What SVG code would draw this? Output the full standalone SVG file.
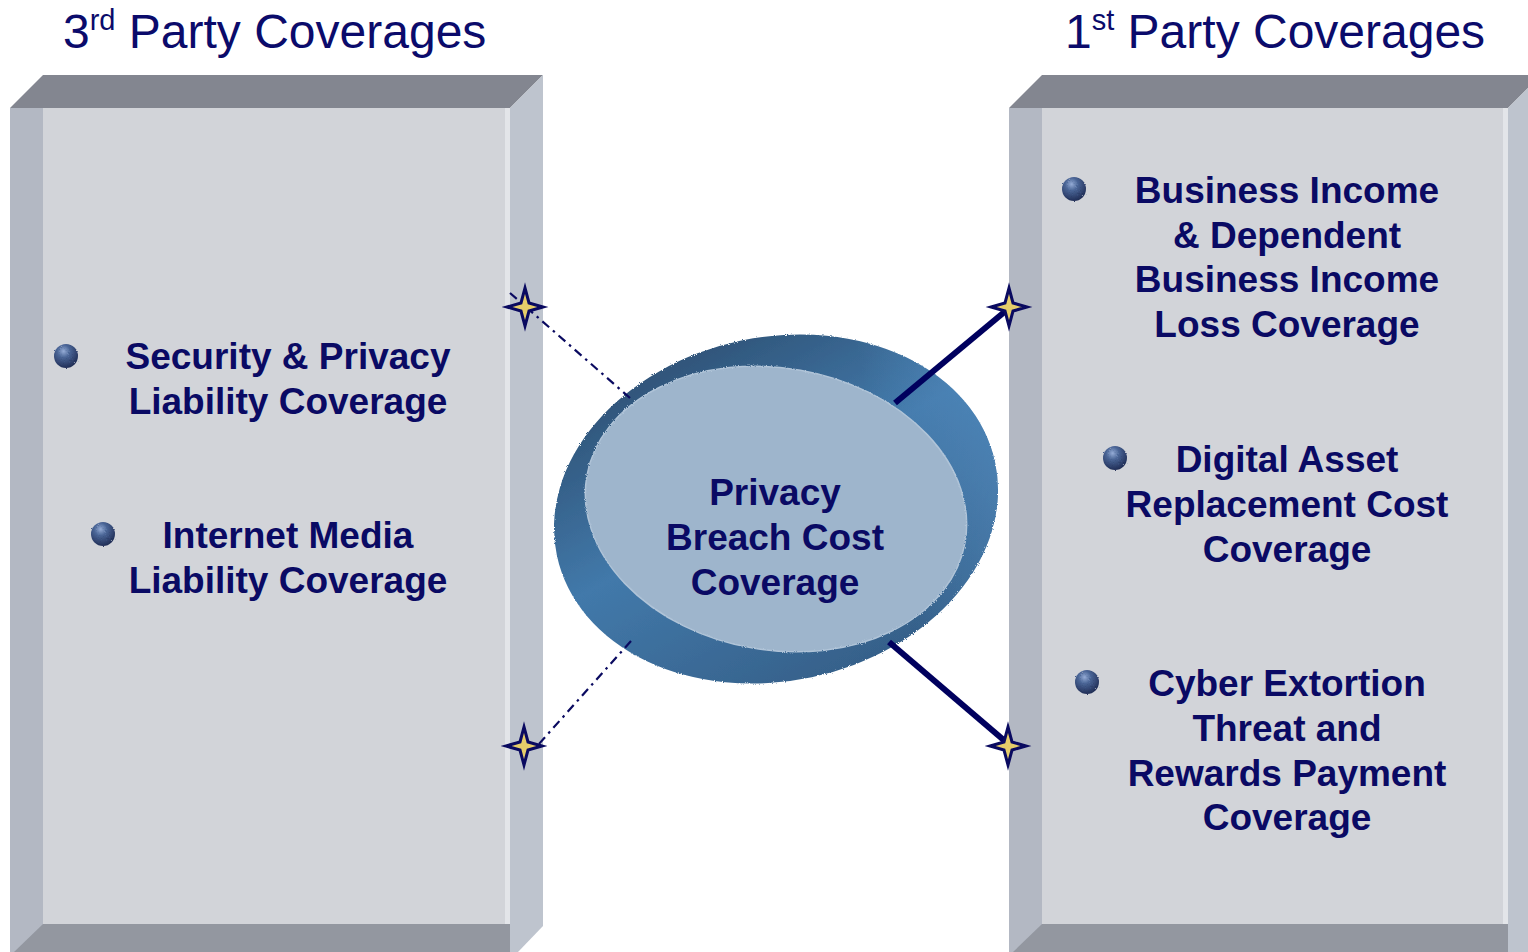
<svg xmlns="http://www.w3.org/2000/svg" width="1528" height="952" viewBox="0 0 1528 952">
  <style>
    .title { font-family: "Liberation Sans", Arial, sans-serif; font-size: 48px; fill: #0b0b6b; }
    .label { font-family: "Liberation Sans", Arial, sans-serif; font-size: 37px; font-weight: bold; fill: #0a0a64; text-anchor: middle; }
    .top { fill: #838690; }
    .side-l { fill: #b3b8c3; }
    .front { fill: #d2d4d9; }
    .side-r { fill: #bec4ce; }
    .bottom { fill: #9397a0; }
    .edge { fill: #e3e5e9; }
    .dashlink { stroke: #0a0a60; stroke-width: 2.2; fill: none; stroke-dasharray: 9 5 2.5 5; }
    .solidlink { stroke: #00005e; stroke-width: 6; fill: none; }
    .star { fill: #e6cd6a; stroke: #0a0a60; stroke-width: 3; stroke-linejoin: miter; }
  </style>
  <defs>
    <radialGradient id="ball" cx="0.4" cy="0.3" r="0.75">
      <stop offset="0" stop-color="#95acd6"/>
      <stop offset="0.35" stop-color="#4a6596"/>
      <stop offset="1" stop-color="#1c2850"/>
    </radialGradient>
    <linearGradient id="ring" x1="0.3" y1="0" x2="0.7" y2="1">
      <stop offset="0" stop-color="#2e5276"/>
      <stop offset="0.45" stop-color="#4279aa"/>
      <stop offset="1" stop-color="#355f88"/>
    </linearGradient>
    <linearGradient id="ringSide" x1="0" y1="0" x2="1" y2="0">
      <stop offset="0" stop-color="#000000" stop-opacity="0"/>
      <stop offset="0.75" stop-color="#5a93c8" stop-opacity="0"/>
      <stop offset="1" stop-color="#5a93c8" stop-opacity="0.45"/>
    </linearGradient>
    <filter id="rough" x="-5%" y="-5%" width="110%" height="110%">
      <feTurbulence type="fractalNoise" baseFrequency="0.9" numOctaves="1" seed="3" result="n"/>
      <feDisplacementMap in="SourceGraphic" in2="n" scale="3"/>
    </filter>
    <path id="star4" class="star" d="M0,-19 L4,-4 L18,0 L4,4 L0,19 L-4,4 L-18,0 L-4,-4 Z"/>
    <circle id="bullet" r="12" fill="url(#ball)"/>
  </defs>

  <rect width="1528" height="952" fill="#ffffff"/>

  <!-- left box: third party coverages -->
  <g id="third-party">
    <rect class="side-l" x="10" y="108" width="33" height="844"/>
    <rect class="front" x="43" y="108" width="467" height="816"/>
    <rect class="edge" x="505" y="108" width="5" height="816"/>
    <polygon class="top" points="10,108 43,75 543,75 510,108"/>
    <polygon class="side-r" points="510,108 543,75 543,926 518,952 510,952"/>
    <polygon class="bottom" points="43,924 510,924 510,952 14,952"/>
    <text class="title" x="63" y="48">3<tspan font-size="29" dy="-18">rd</tspan><tspan dy="18"> Party Coverages</tspan></text>
    <g id="security-privacy">
      <use href="#bullet" x="66" y="356" filter="url(#rough)"/>
      <text class="label" x="288" y="369">Security &amp; Privacy</text>
      <text class="label" x="288" y="414">Liability Coverage</text>
    </g>
    <g id="internet-media">
      <use href="#bullet" x="103" y="534" filter="url(#rough)"/>
      <text class="label" x="288" y="548">Internet Media</text>
      <text class="label" x="288" y="593">Liability Coverage</text>
    </g>
  </g>

  <!-- right box: first party coverages -->
  <g id="first-party">
    <rect class="side-l" x="1009" y="108" width="33" height="844"/>
    <rect class="front" x="1042" y="108" width="466" height="816"/>
    <rect class="edge" x="1503" y="108" width="5" height="816"/>
    <polygon class="top" points="1009,108 1042,75 1541,75 1508,108"/>
    <polygon class="side-r" points="1508,108 1541,75 1541,952 1508,952"/>
    <polygon class="bottom" points="1042,924 1508,924 1508,952 1013,952"/>
    <text class="title" x="1065" y="48">1<tspan font-size="29" dy="-18">st</tspan><tspan dy="18"> Party Coverages</tspan></text>
    <g id="business-income">
      <use href="#bullet" x="1074" y="189" filter="url(#rough)"/>
      <text class="label" x="1287" y="203">Business Income</text>
      <text class="label" x="1287" y="248">&amp; Dependent</text>
      <text class="label" x="1287" y="292">Business Income</text>
      <text class="label" x="1287" y="337">Loss Coverage</text>
    </g>
    <g id="digital-asset">
      <use href="#bullet" x="1115" y="458" filter="url(#rough)"/>
      <text class="label" x="1287" y="472">Digital Asset</text>
      <text class="label" x="1287" y="517">Replacement Cost</text>
      <text class="label" x="1287" y="562">Coverage</text>
    </g>
    <g id="cyber-extortion">
      <use href="#bullet" x="1087" y="682" filter="url(#rough)"/>
      <text class="label" x="1287" y="696">Cyber Extortion</text>
      <text class="label" x="1287" y="741">Threat and</text>
      <text class="label" x="1287" y="786">Rewards Payment</text>
      <text class="label" x="1287" y="830">Coverage</text>
    </g>
  </g>

  <!-- centre disc -->
  <g id="privacy-breach">
    <g filter="url(#rough)">
      <ellipse cx="776" cy="509" rx="224" ry="172" transform="rotate(-12 776 509)" fill="url(#ring)"/>
      <ellipse cx="776" cy="509" rx="224" ry="172" transform="rotate(-12 776 509)" fill="url(#ringSide)"/>
      <ellipse cx="776" cy="509" rx="192" ry="141" transform="rotate(10 776 509)" fill="#9eb5cc" stroke="#b0c4d8" stroke-width="1.5"/>
    </g>
    <text class="label" x="775" y="505">Privacy</text>
    <text class="label" x="775" y="550">Breach Cost</text>
    <text class="label" x="775" y="595">Coverage</text>
  </g>

  <!-- links from the disc to both boxes -->
  <g id="connectors">
    <line class="dashlink" x1="510" y1="293" x2="630" y2="398"/>
    <line class="dashlink" x1="631" y1="641" x2="538" y2="745"/>
    <line class="solidlink" x1="895" y1="403" x2="1014" y2="304"/>
    <line class="solidlink" x1="889" y1="642" x2="1006" y2="742"/>
    <use href="#star4" x="525" y="307"/>
    <use href="#star4" x="524" y="746"/>
    <use href="#star4" x="1009" y="307"/>
    <use href="#star4" x="1008" y="746"/>
  </g>
</svg>
